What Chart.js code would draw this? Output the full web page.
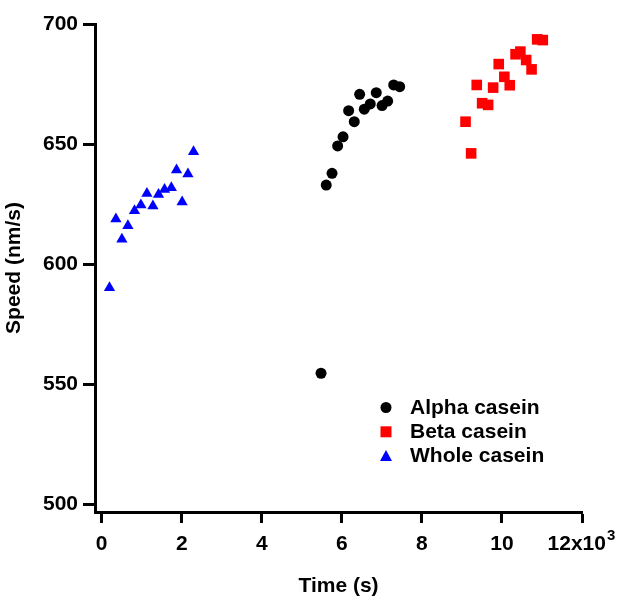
<!DOCTYPE html>
<html>
<head>
<meta charset="utf-8">
<script src="https://cdn.jsdelivr.net/npm/chart.js@4/dist/chart.umd.min.js"></script>
<style>
  html, body { margin: 0; padding: 0; background: #fff; }
  #wrap { width: 636px; height: 600px; }
</style>
</head>
<body>
<div id="wrap"><canvas id="c" width="636" height="600"></canvas></div>
<script>
// ---- data (time in seconds, speed in nm/s) ----
const seriesNames = ['Alpha casein', 'Beta casein', 'Whole casein'];
const seriesColors = ['#000000', '#ff0000', '#0000ff'];

const alphaTime  = [5480, 5610, 5755, 5895, 6030, 6170, 6310, 6445, 6560, 6710, 6860, 7005, 7145, 7295, 7445];
const alphaSpeed = [554.5, 632.9, 637.8, 649.2, 653.0, 663.9, 659.3, 670.7, 664.5, 666.7, 671.4, 666.0, 667.9, 674.6, 673.9];

const betaTime  = [9090, 9230, 9370, 9505, 9655, 9780, 9920, 10060, 10195, 10340, 10460, 10605, 10740, 10880, 11020];
const betaSpeed = [659.3, 646.1, 674.6, 667.0, 666.3, 673.5, 683.3, 678.0, 674.5, 687.4, 688.5, 685.0, 681.1, 693.6, 693.3];

const wholeTime  = [195, 355, 505, 655, 820, 980, 1130, 1280, 1420, 1570, 1740, 1870, 2010, 2155, 2295];
const wholeSpeed = [590.1, 618.8, 610.3, 616.0, 622.2, 624.6, 629.4, 624.2, 629.0, 631.1, 631.8, 639.2, 625.8, 637.5, 646.8];

const xTicks = [0, 2000, 4000, 6000, 8000, 10000, 12000];
const yTicks = [500, 550, 600, 650, 700];

const xTitle = 'Time (s)';
const yTitle = 'Speed (nm/s)';
const lastTickBase = '12x10';
const lastTickExp = '3';

function pts(xs, ys) { return xs.map((x, i) => ({ x: x, y: ys[i] })); }

const FONT = "'Liberation Sans', Arial, Helvetica, sans-serif";
const FS = 21;

const pointStyles = ['circle', 'rect', 'triangle'];
const pointRadii = [5.5, 7.5, 6.5];

const datasets = [
  pts(alphaTime, alphaSpeed),
  pts(betaTime, betaSpeed),
  pts(wholeTime, wholeSpeed)
].map((d, i) => ({
  label: seriesNames[i],
  data: d,
  showLine: false,
  pointStyle: pointStyles[i],
  pointRadius: pointRadii[i],
  pointHoverRadius: pointRadii[i],
  pointBorderWidth: 0,
  borderWidth: 0,
  backgroundColor: seriesColors[i],
  borderColor: seriesColors[i]
}));

// custom legend drawn inside plot area + superscript exponent on last x tick
const insideLegend = {
  id: 'insideLegend',
  afterDraw(chart) {
    const ctx = chart.ctx;
    const x0 = 386, y0 = 407.5, step = 24.3;
    ctx.save();
    chart.data.datasets.forEach((ds, i) => {
      const y = y0 + i * step;
      ctx.fillStyle = ds.backgroundColor;
      ctx.beginPath();
      if (ds.pointStyle === 'circle') {
        ctx.arc(x0, y, 5.5, 0, Math.PI * 2);
      } else if (ds.pointStyle === 'rect') {
        ctx.rect(x0 - 5.5, y - 5.5, 11, 11);
      } else {
        ctx.moveTo(x0, y - 6);
        ctx.lineTo(x0 + 6, y + 5);
        ctx.lineTo(x0 - 6, y + 5);
        ctx.closePath();
      }
      ctx.fill();
      ctx.fillStyle = '#000';
      ctx.font = 'bold ' + FS + 'px ' + FONT;
      ctx.textBaseline = 'middle';
      ctx.textAlign = 'left';
      ctx.fillText(ds.label, 410, y + 0.5);
    });

    // exponent for the 12x10^3 tick label
    const xs = chart.scales.x;
    ctx.font = 'bold ' + FS + 'px ' + FONT;
    const fullW = ctx.measureText(lastTickBase + '\u2002').width;
    const baseW = ctx.measureText(lastTickBase).width;
    const px = xs.getPixelForValue(12000) - fullW / 2 + baseW + 1;
    ctx.font = 'bold 15px ' + FONT;
    ctx.textAlign = 'left';
    ctx.textBaseline = 'alphabetic';
    ctx.fillText(lastTickExp, px, 540);
    ctx.restore();
  }
};

new Chart(document.getElementById('c'), {
  type: 'scatter',
  data: { datasets: datasets },
  plugins: [insideLegend],
  options: {
    responsive: false,
    devicePixelRatio: 1,
    animation: false,
    events: [],
    layout: { padding: { top: 24, right: 54, left: 0, bottom: 0 } },
    plugins: {
      legend: { display: false },
      tooltip: { enabled: false }
    },
    scales: {
      x: {
        type: 'linear',
        min: -167,
        max: 12000,
        afterFit(s) { s.height = 88; },
        afterBuildTicks(s) { s.ticks = xTicks.map(v => ({ value: v })); },
        border: { display: true, color: '#000', width: 3 },
        grid: { drawOnChartArea: false, drawTicks: true, tickLength: 11, tickWidth: 3, tickColor: '#000' },
        ticks: {
          color: '#000',
          padding: 9,
          maxRotation: 0,
          font: { family: FONT, size: FS, weight: 'bold' },
          callback: v => v === 12000 ? lastTickBase + '\u2002' : String(v / 1000)
        },
        title: {
          display: true,
          text: xTitle,
          color: '#000',
          font: { family: FONT, size: FS, weight: 'bold' },
          padding: { top: 0, bottom: 1 }
        }
      },
      y: {
        type: 'linear',
        min: 496.7,
        max: 700,
        afterFit(s) { s.width = 95; },
        afterBuildTicks(s) { s.ticks = yTicks.map(v => ({ value: v })); },
        border: { display: true, color: '#000', width: 3 },
        grid: { drawOnChartArea: false, drawTicks: true, tickLength: 12, tickWidth: 3, tickColor: '#000' },
        ticks: {
          color: '#000',
          padding: 5,
          font: { family: FONT, size: FS, weight: 'bold' }
        },
        title: {
          display: true,
          text: yTitle,
          color: '#000',
          font: { family: FONT, size: FS, weight: 'bold' },
          padding: { top: 2, bottom: 0 }
        }
      }
    }
  }
});
</script>
</body>
</html>
